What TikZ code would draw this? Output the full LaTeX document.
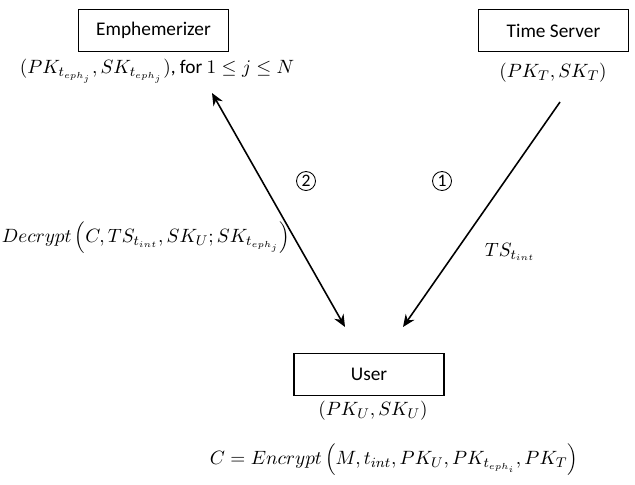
\documentclass[tikz,border=0pt]{standalone}
\usepackage{fontspec}
\setmainfont{Carlito}
\usetikzlibrary{arrows.meta,positioning}
\tikzset{
  party/.style={draw, line width=0.6pt, minimum width=3cm, minimum height=0.84cm, font=\fontsize{11}{13}\selectfont},
  keys/.style={font=\fontsize{11}{13}\selectfont},
  msg/.style={line width=0.9pt, -{Stealth[length=7pt,width=6pt]}},
  both/.style={line width=0.9pt, {Stealth[length=7pt,width=6pt]}-{Stealth[length=7pt,width=6pt]}},
  stepno/.style={circle, draw, line width=0.5pt, inner sep=0.8pt, minimum size=0.38cm, font=\fontsize{10}{12}\selectfont},
}
\begin{document}
\begin{tikzpicture}[x=0.02cm,y=-0.02cm]
  \useasboundingbox (0,0) rectangle (635,484);
  % the three parties
  \node[party] (emph) at (153.5,30.5) {Emphemerizer};
  \node[party] (tserv) at (553.5,30.5) {Time Server};
  \node[party] (user) at (369,374.5) {User};
  % their key pairs
  \node[keys] (emphkeys) at (157,71) {$(PK_{t_{eph_j}},SK_{t_{eph_j}})$, for $1\leq j\leq N$};
  \node[keys] (tservkeys) at (553,73) {$(PK_T,SK_T)$};
  \node[keys] (userkeys) at (373,411) {$(PK_U,SK_U)$};
  \node[keys] (enc) at (394,460) {$C = Encrypt\left(M,t_{int},PK_U,PK_{t_{eph_i}},PK_T\right)$};
  % messages
  \coordinate (etip) at (212,93);
  \coordinate (utipl) at (345,327);
  \coordinate (tstart) at (560,102);
  \coordinate (utipr) at (403,327);
  \draw[both] (etip) -- (utipl);
  \draw[msg] (tstart) -- (utipr);
  \node[keys] (dec) at (146,238) {$Decrypt\left(C,TS_{t_{int}},SK_U;SK_{t_{eph_j}}\right)$};
  \node[keys] (ts) at (510,252) {$TS_{t_{int}}$};
  \node[stepno] (two) at (306,181) {2};
  \node[stepno] (one) at (442,181) {1};
\end{tikzpicture}
\end{document}
